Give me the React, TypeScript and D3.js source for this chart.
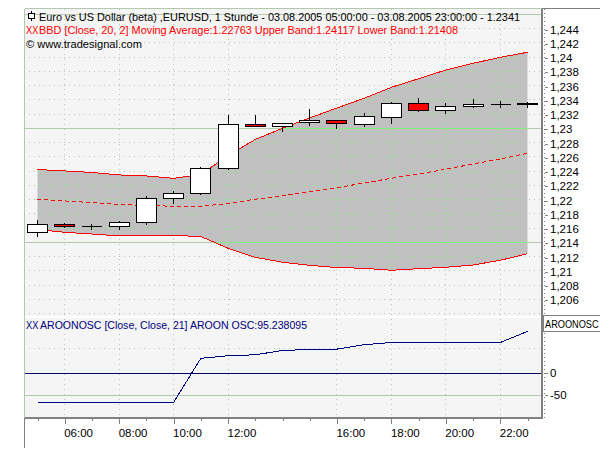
import { useRef, useEffect } from "react";
import * as d3 from "d3";

const hours = [5, 6, 7, 8, 9, 10, 11, 12, 13, 14, 15, 16, 17, 18, 19, 20, 21, 22, 23];
const opens = [1.2154, 1.21653, 1.21625, 1.21619, 1.21681, 1.22018, 1.22088, 1.22439, 1.2306, 1.23022, 1.23079, 1.23107, 1.23051, 1.23154, 1.23351, 1.23253, 1.23303, 1.23337, 1.23348];
const highs = [1.21713, 1.21681, 1.21657, 1.21703, 1.2205, 1.2212, 1.22461, 1.23196, 1.23187, 1.23084, 1.23271, 1.23126, 1.23225, 1.23379, 1.23439, 1.23365, 1.23421, 1.23383, 1.23369];
const lows = [1.21479, 1.21605, 1.21577, 1.21573, 1.21643, 1.21938, 1.22064, 1.22415, 1.23022, 1.22952, 1.23036, 1.22994, 1.23018, 1.23074, 1.23233, 1.23201, 1.23289, 1.23289, 1.23289];
const closes = [1.21653, 1.21619, 1.21625, 1.21681, 1.22018, 1.22088, 1.22439, 1.23056, 1.23022, 1.2307, 1.23112, 1.23065, 1.23159, 1.23351, 1.23253, 1.23309, 1.23337, 1.23337, 1.23327];
const upperBand = [1.22422, 1.22401, 1.2238, 1.22345, 1.22331, 1.22298, 1.22352, 1.22618, 1.22843, 1.23, 1.23145, 1.23285, 1.23421, 1.23575, 1.23696, 1.23818, 1.23912, 1.23996, 1.24067];
const middleBand = [1.22004, 1.2198, 1.21956, 1.21931, 1.21917, 1.21905, 1.21905, 1.21945, 1.22004, 1.22054, 1.22106, 1.22166, 1.22232, 1.22298, 1.22359, 1.22425, 1.22499, 1.22569, 1.22649];
const lowerBand = [1.2158, 1.2154, 1.21516, 1.21488, 1.21495, 1.21495, 1.21481, 1.21316, 1.21189, 1.21119, 1.21077, 1.21044, 1.21035, 1.21007, 1.21029, 1.21049, 1.21081, 1.21147, 1.2124];
const aroon = [-66, -66, -66, -66, -66, -66, 34, 40, 42, 52, 54, 55, 65, 70, 70, 70, 70, 70, 95.24];

const priceTicks = [1.244, 1.242, 1.24, 1.238, 1.236, 1.234, 1.232, 1.23, 1.228, 1.226, 1.224, 1.222, 1.22, 1.218, 1.216, 1.214, 1.212, 1.21, 1.208, 1.206];
const priceDots = [...priceTicks, 1.204];
const priceSolid = [1.246, 1.23, 1.214];
const oscTicks = [0, -50];
const oscDots = [56, 0];
const timeLabels = [6, 8, 10, 12, 16, 18, 20, 22];
const timeMinor = [5, 7, 9, 11, 13, 14, 15, 17, 19, 21, 23];

const titleText = "Euro vs US Dollar (beta) ,EURUSD, 1 Stunde - 03.08.2005 05:00:00 - 03.08.2005 23:00:00 - 1.2341";
const bandText = "BBD [Close, 20, 2] Moving Average:1.22763 Upper Band:1.24117 Lower Band:1.21408";
const copyText = "© www.tradesignal.com";
const oscText = "AROONOSC [Close, Close, 21] AROON OSC:95.238095";

const FONT = "'Liberation Sans', sans-serif";
const GRID = "#b4c8b0";
const BRIGHT = "#80f080";
const AXIS = "#808080";

export default function App() {
  const svgRef = useRef<SVGSVGElement>(null);

  useEffect(() => {
    const svg = d3.select(svgRef.current);
    svg.selectAll("*").remove();

    const left = 24.5;
    const right = 542;
    const top = 8.5;
    const bottom = 417.5;

    const x = d3.scaleLinear().domain([5, 23]).range([37.5, 527.5]);
    const y = d3.scaleLinear().domain([1.246, 1.204]).range([14.3, 313.5]);
    const yOsc = d3.scaleLinear().domain([0, -50]).range([373.3, 395.3]);
    const snap = (v: number) => Math.round(v - 0.5) + 0.5;

    svg
      .append("rect")
      .attr("x", left)
      .attr("y", top)
      .attr("width", right - left)
      .attr("height", bottom - top)
      .attr("fill", "#f5f5f5");

    // Band fill, also used to clip the bright grid
    const area = d3
      .area<number>()
      .x((d) => x(d))
      .y0((_, i) => y(lowerBand[i]))
      .y1((_, i) => y(upperBand[i]));

    svg.append("clipPath").attr("id", "band").append("path").attr("d", area(hours));
    svg.append("path").attr("d", area(hours)).attr("fill", "#c0c0c0");

    // Grid, once pale and once bright inside the band
    const drawGrid = (g: any, color: string) => {
      g.attr("shape-rendering", "crispEdges").attr("stroke", color);
      g.selectAll(".v")
        .data(timeLabels)
        .join("line")
        .attr("class", "v")
        .attr("x1", (d: number) => snap(x(d)))
        .attr("x2", (d: number) => snap(x(d)))
        .attr("y1", top)
        .attr("y2", bottom)
        .attr("stroke-dasharray", "1 4");
      g.selectAll(".h")
        .data(priceDots)
        .join("line")
        .attr("class", "h")
        .attr("x1", 29)
        .attr("x2", right)
        .attr("y1", (d: number) => snap(y(d)))
        .attr("y2", (d: number) => snap(y(d)))
        .attr("stroke-dasharray", "1 4");
      g.selectAll(".s")
        .data(priceSolid)
        .join("line")
        .attr("class", "s")
        .attr("x1", left)
        .attr("x2", right)
        .attr("y1", (d: number) => snap(y(d)))
        .attr("y2", (d: number) => snap(y(d)));
    };
    drawGrid(svg.append("g"), GRID);
    drawGrid(svg.append("g").attr("clip-path", "url(#band)"), BRIGHT);

    // Separator of the two panes
    svg
      .append("line")
      .attr("x1", left + 0.5)
      .attr("x2", right)
      .attr("y1", 317)
      .attr("y2", 317)
      .attr("stroke", "#ffffff")
      .attr("stroke-width", 1.5);

    // Oscillator grid
    const oscGrid = svg.append("g").attr("shape-rendering", "crispEdges").attr("stroke", GRID);
    oscGrid
      .selectAll(".d")
      .data(oscDots)
      .join("line")
      .attr("class", "d")
      .attr("x1", 29)
      .attr("x2", right)
      .attr("y1", (d) => snap(yOsc(d)))
      .attr("y2", (d) => snap(yOsc(d)))
      .attr("stroke-dasharray", "1 4");
    oscGrid
      .append("line")
      .attr("x1", left)
      .attr("x2", right)
      .attr("y1", snap(yOsc(-50)))
      .attr("y2", snap(yOsc(-50)));

    // Band lines
    const bandLine = (values: number[]) =>
      d3
        .line<number>()
        .x((d) => x(d))
        .y((_, i) => y(values[i]))(hours);

    svg.append("path").attr("d", bandLine(upperBand)).attr("fill", "none").attr("stroke", "#ff0000").attr("shape-rendering", "crispEdges");
    svg.append("path").attr("d", bandLine(lowerBand)).attr("fill", "none").attr("stroke", "#ff0000").attr("shape-rendering", "crispEdges");
    svg.append("path").attr("d", bandLine(middleBand)).attr("fill", "none").attr("stroke", "#ff0000").attr("stroke-dasharray", "4 3").attr("shape-rendering", "crispEdges");

    // Candles
    const bodyTop = (i: number) => snap(y(Math.max(opens[i], closes[i])));
    const bodyBottom = (i: number) => snap(y(Math.min(opens[i], closes[i])));
    const candles = svg.append("g").attr("shape-rendering", "crispEdges").attr("stroke", "#000000");
    candles
      .selectAll(".wick")
      .data(hours)
      .join("line")
      .attr("class", "wick")
      .attr("x1", (d) => snap(x(d)))
      .attr("x2", (d) => snap(x(d)))
      .attr("y1", (_, i) => snap(y(highs[i])))
      .attr("y2", (_, i) => snap(y(lows[i])));
    candles
      .selectAll(".body")
      .data(hours)
      .join("rect")
      .attr("class", "body")
      .attr("x", (d) => snap(x(d)) - 10)
      .attr("width", 20)
      .attr("y", (_, i) => bodyTop(i))
      .attr("height", (_, i) => bodyBottom(i) - bodyTop(i))
      .attr("fill", (_, i) => (closes[i] < opens[i] ? "#ff0000" : "#ffffff"));
    // a rect of no height draws nothing, so dojis get a line
    candles
      .selectAll(".doji")
      .data(hours.filter((_, i) => opens[i] === closes[i]))
      .join("line")
      .attr("class", "doji")
      .attr("x1", (d) => snap(x(d)) - 10)
      .attr("x2", (d) => snap(x(d)) + 10)
      .attr("y1", (d) => snap(y(opens[hours.indexOf(d)])))
      .attr("y2", (d) => snap(y(opens[hours.indexOf(d)])));

    // Oscillator
    svg
      .append("line")
      .attr("x1", left)
      .attr("x2", right)
      .attr("y1", snap(yOsc(0)))
      .attr("y2", snap(yOsc(0)))
      .attr("stroke", "#000060")
      .attr("shape-rendering", "crispEdges");
    svg
      .append("path")
      .attr(
        "d",
        d3
          .line<number>()
          .x((d) => x(d))
          .y((_, i) => yOsc(aroon[i]))(hours)
      )
      .attr("fill", "none")
      .attr("stroke", "#000080")
      .attr("shape-rendering", "crispEdges");

    // Frame
    const frame = svg.append("g").attr("shape-rendering", "crispEdges");
    frame.append("line").attr("x1", left).attr("x2", right).attr("y1", top).attr("y2", top).attr("stroke", GRID);
    frame.append("line").attr("x1", left).attr("x2", left).attr("y1", top).attr("y2", bottom).attr("stroke", GRID);
    frame.append("line").attr("x1", left).attr("x2", left).attr("y1", bottom).attr("y2", 448).attr("stroke", AXIS);
    frame.append("line").attr("x1", left).attr("x2", right + 1).attr("y1", bottom).attr("y2", bottom).attr("stroke", AXIS).attr("stroke-width", 2);
    frame.append("line").attr("x1", right).attr("x2", right).attr("y1", top).attr("y2", bottom).attr("stroke", AXIS).attr("stroke-width", 2);
    frame.append("line").attr("x1", right).attr("x2", 600).attr("y1", top).attr("y2", top).attr("stroke", AXIS);
    frame.append("line").attr("x1", 544.5).attr("x2", 544.5).attr("y1", top).attr("y2", bottom).attr("stroke", AXIS).attr("stroke-dasharray", "1 3");

    // Axes
    const styleAxis = (g: any) => {
      g.select(".domain").remove();
      g.selectAll(".tick line").attr("stroke", AXIS).attr("shape-rendering", "crispEdges");
      g.selectAll(".tick text").attr("fill", "#000000").attr("font-family", FONT).attr("font-size", 11.5);
    };
    svg
      .append("g")
      .attr("transform", "translate(545,1)")
      .call(
        d3
          .axisRight(y)
          .tickValues(priceTicks)
          .tickSize(3)
          .tickPadding(2)
          .tickFormat((d) => String(d).replace(".", ","))
      )
      .call(styleAxis);
    svg
      .append("g")
      .attr("transform", "translate(545,0)")
      .call(
        d3
          .axisRight(yOsc)
          .tickValues(oscTicks)
          .tickSize(3)
          .tickPadding(2)
          .tickFormat((d) => String(d))
      )
      .call(styleAxis);
    svg
      .append("g")
      .attr("transform", `translate(0,${bottom})`)
      .call(d3.axisBottom(x).tickValues(timeMinor).tickSize(3).tickFormat(() => ""))
      .call(styleAxis);
    svg
      .append("g")
      .attr("transform", `translate(0,${bottom})`)
      .call(
        d3
          .axisBottom(x)
          .tickValues(timeLabels)
          .tickSize(6)
          .tickPadding(5)
          .tickFormat((d) => `${String(d).padStart(2, "0")}:00`)
      )
      .call(styleAxis)
      .call((g) => g.selectAll(".tick text").attr("text-anchor", "start").attr("x", -1));

    // Aroon label box
    svg
      .append("rect")
      .attr("x", 543.5)
      .attr("y", 315.5)
      .attr("width", 60)
      .attr("height", 16)
      .attr("fill", "#ffffff")
      .attr("stroke", AXIS)
      .attr("shape-rendering", "crispEdges");

    // Squeezed sideways, the reference's pixel font is narrower here
    const squeezed = (text: string, tx: number, ty: number, color: string, sx: number) =>
      svg
        .append("text")
        .attr("transform", `translate(${tx},${ty}) scale(${sx},1)`)
        .attr("fill", color)
        .attr("font-family", FONT)
        .attr("font-size", 11.5)
        .text(text);

    squeezed("AROONOSC", 545, 328, "#000000", 0.8);
    squeezed("XX", 26, 34, "#ff0000", 0.8);
    squeezed("XX", 26, 329, "#000080", 0.8);

    // Legend texts
    const legend = (text: string, tx: number, ty: number, color: string, length: number) =>
      svg
        .append("text")
        .attr("x", tx)
        .attr("y", ty)
        .attr("fill", color)
        .attr("font-family", FONT)
        .attr("font-size", 11.5)
        .attr("textLength", length)
        .attr("lengthAdjust", "spacingAndGlyphs")
        .text(text);

    legend(titleText, 39, 21, "#000000", 481);
    legend(bandText, 39, 34, "#ff0000", 419);
    legend(copyText, 26, 48, "#000000", 116);
    legend(oscText, 40, 329, "#000080", 267);

    // Little candle in the title row
    const icon = svg.append("g").attr("shape-rendering", "crispEdges").attr("stroke", "#000000");
    icon.append("line").attr("x1", 31.5).attr("x2", 31.5).attr("y1", 11).attr("y2", 21);
    icon.append("rect").attr("x", 28.5).attr("y", 13.5).attr("width", 6).attr("height", 5).attr("fill", "#f5f5f5");
  }, []);

  return (
    <svg
      ref={svgRef}
      width={600}
      height={450}
      style={{ position: "absolute", left: 0, top: 0, background: "#ffffff" }}
    />
  );
}
